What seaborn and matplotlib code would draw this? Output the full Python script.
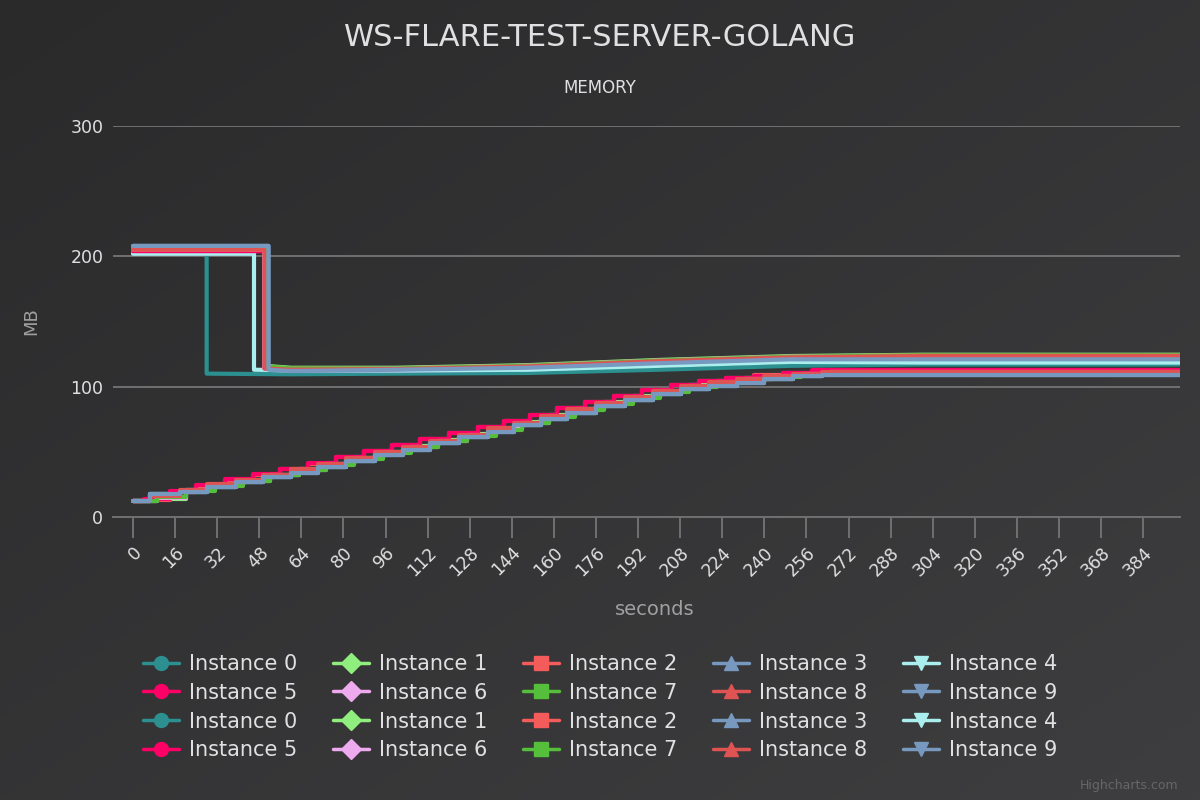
import numpy as np
import pandas as pd
import seaborn as sns
import matplotlib.pyplot as plt
from matplotlib.lines import Line2D
from matplotlib.colors import LinearSegmentedColormap

# series setup
instances = ['Instance %d' % i for i in range(10)]
colors = ["#2b908f", "#90ee7e", "#f45b5b", "#7798BF", "#aaeeee",
          "#ff0066", "#eeaaee", "#55BF3B", "#DF5353", "#7798BF"]
markers = ['o', 'D', 's', '^', 'v', 'o', 'D', 's', '^', 'v']

x_ticks = list(range(0, 385, 16))
y_ticks = [0, 100, 200, 300]

# run 1: instances start high and drop once warmed up
drop_at = [28, 50, 50.5, 51.5, 46, 50, 50, 51, 50, 51.5]
run1_mem = [
    [207, 207, 110, 109.5, 110, 110.5, 113, 116, 117, 117],
    [205, 205, 116, 114.5, 114.5, 116.5, 120.5, 123.5, 124.5, 124.5],
    [204, 204, 115, 114, 114, 116, 120, 123, 124, 124],
    [208, 208, 113, 112, 112, 113, 116.5, 119.5, 119, 119],
    [202, 202, 113, 112.5, 112.5, 113, 116, 119, 118.5, 118.5],
    [204, 204, 114, 113, 113.5, 115.5, 119.5, 122.5, 123, 123],
    [205, 205, 114.5, 113.5, 114, 116, 120, 123, 123.5, 123.5],
    [206, 206, 115.5, 114, 114, 116, 120, 123, 124, 124],
    [205, 205, 114, 113, 113.5, 115.5, 119.5, 122.5, 123.5, 123.5],
    [208, 208, 113, 112, 113, 114.5, 118, 121, 121, 121],
]

# run 2: instances ramp up in steps
steps_a = [0, 6.5, 18, 28, 39, 49.5, 60, 70.5, 81, 92, 102.5, 113, 124, 135, 145,
           155, 165, 176, 187, 197.5, 208.5, 219, 229.5, 240, 251, 262, 398]
steps_b = [0, 4, 14, 24, 35, 45.5, 56, 66.5, 77, 88, 98.5, 109, 120, 131, 141,
           151, 161, 172, 183, 193.5, 204.5, 215, 225.5, 236, 247, 258, 398]
steps_c = [0, 9, 20, 31, 42, 52, 63, 73.5, 84, 95, 105.5, 116, 127, 138, 148,
           158, 168, 179, 190, 200.5, 211.5, 222, 232.5, 243, 254, 265, 398]
run2_steps = [steps_a, steps_c, steps_b, steps_a, steps_a,
              steps_b, steps_c, steps_c, steps_a, steps_a]
run2_mem = [
    [12, 17.5, 19.5, 23, 27, 31, 34.5, 38.5, 43, 48, 52, 56.5, 61, 66, 70.5, 75.5, 80, 85, 90, 94, 98, 101, 103.5, 106, 108, 109.5, 109.5],
    [12, 14, 20.5, 24.5, 28.5, 32.5, 36.5, 41, 45.5, 50, 54.5, 59, 63.5, 68, 73, 78, 83, 88, 92.5, 97, 101, 104, 106.5, 108.5, 110, 111, 111],
    [12, 13, 19.5, 24, 28.5, 32.5, 36.5, 41, 46, 50.5, 55, 59.5, 64.5, 69, 73.5, 78.5, 83.5, 88.5, 93, 97.5, 101.5, 104.5, 107, 109, 110.5, 112, 112],
    [12, 17.5, 19.5, 23, 27, 31, 34.5, 38.5, 43, 48, 52, 56.5, 61, 66, 70.5, 75.5, 80, 85, 90, 94, 98, 101, 103.5, 106, 108, 109.5, 109.5],
    [12, 18, 19.5, 23, 26.5, 30.5, 34, 38, 43, 47.5, 51.5, 56.5, 61, 65.5, 70.5, 75, 80, 85, 89.5, 94, 98, 100.5, 103, 105.5, 108, 109, 109],
    [12, 14, 20, 24.5, 29, 33, 37, 41.5, 46, 50.5, 55, 59.5, 64.5, 69, 73.5, 78.5, 83.5, 88.5, 93, 97.5, 101, 104, 106.5, 108.5, 110.5, 112.5, 112.5],
    [12, 14.5, 21, 24.5, 28, 32, 36, 40.5, 45, 49.5, 54, 58.5, 63, 67.5, 72.5, 77.5, 82.5, 87.5, 92, 96.5, 100.5, 103.5, 106, 108, 110, 111, 111],
    [12, 15, 20, 24, 28, 32, 36, 40, 44.5, 49, 53.5, 58, 62.5, 67, 72, 77, 82, 87, 91.5, 96, 100, 103, 105.5, 107.5, 109.5, 111, 111],
    [12, 16, 21, 25, 28.5, 32.5, 36.5, 40.5, 45, 49.5, 54, 58.5, 63, 68, 72.5, 77.5, 82.5, 87.5, 92, 96.5, 100.5, 103.5, 106, 108, 110, 111.5, 111.5],
    [12, 18, 19.5, 23, 26.5, 30.5, 34, 38, 43, 47.5, 51.5, 56.5, 61, 65.5, 70.5, 75, 80, 85, 89.5, 94, 98, 100.5, 103, 105.5, 108, 109, 109],
]

sns.set_theme(style='dark')
plt.rcParams['font.family'] = ['DejaVu Sans']
txt = '#E0E0E3'
grid_c = '#707073'

fig = plt.figure(figsize=(12, 8), dpi=100)

# gradient background
bg = fig.add_axes([0, 0, 1, 1], zorder=-10)
gx, gy = np.meshgrid(np.linspace(0, 1, 300), np.linspace(0, 1, 200))
cmap = LinearSegmentedColormap.from_list('bg', ['#2a2a2b', '#3e3e40'])
bg.imshow((gx + gy) / 2, cmap=cmap, aspect='auto', extent=(0, 1, 0, 1), origin='upper')
bg.axis('off')

ax = fig.add_axes([113/1200, 1-517/800, 1067/1200, 391/800])
ax.set_facecolor('none')

for i in range(10):
    d = drop_at[i]
    t = [0, d, d, 60, 100, 150, 200, 250, 300, 398]
    sns.lineplot(x=t, y=run1_mem[i], ax=ax, color=colors[i], lw=3,
                 estimator=None, sort=False, legend=False, solid_joinstyle='round')
for i in range(10):
    sns.lineplot(x=run2_steps[i], y=run2_mem[i], ax=ax, color=colors[i], lw=3,
                 estimator=None, sort=False, legend=False, drawstyle='steps-post')

ax.set_xlim(-7.6, 398)
ax.set_ylim(0, 300)
ax.set_xticks(x_ticks)
ax.set_xticklabels([str(v) for v in x_ticks], rotation=45, ha='right',
                   rotation_mode='anchor', color=txt, fontsize=12.5)
ax.set_yticks(y_ticks)
ax.set_yticklabels([str(v) for v in y_ticks], color=txt, fontsize=12.5)
ax.tick_params(axis='x', length=15, width=1.4, color=grid_c, pad=4, bottom=True)
ax.tick_params(axis='y', length=0, pad=7)
ax.grid(axis='y', color=grid_c, lw=1.4)
ax.grid(axis='x', visible=False)
for s in ['top', 'right', 'left']:
    ax.spines[s].set_visible(False)
ax.spines['bottom'].set_color(grid_c)
ax.spines['bottom'].set_linewidth(1.4)

ax.set_xlabel('seconds', color='#A0A0A3', fontsize=14)
ax.xaxis.set_label_coords(0.508, -0.212)
ax.set_ylabel('MB', color='#A0A0A3', fontsize=13)
ax.yaxis.set_label_coords(-0.068, 0.5)

fig.text(0.5, 1-37/800, 'WS-FLARE-TEST-SERVER-GOLANG', ha='center', va='center',
         color=txt, fontsize=22)
fig.text(0.5, 1-88/800, 'MEMORY', ha='center', va='center', color=txt, fontsize=12)
fig.text(1178/1200, 1-785/800, 'Highcharts.com', ha='right', va='center',
         color='#666666', fontsize=9)

# legend, row-major like the original
handles = []
for c in range(5):
    for i in [c, c + 5, c, c + 5]:
        handles.append(Line2D([0], [0], color=colors[i], lw=2.5, marker=markers[i],
                              markersize=10, label=instances[i]))
leg = fig.legend(handles=handles, ncol=5, loc='upper left',
                 bbox_to_anchor=(143/1200, 1-654/800), frameon=False,
                 fontsize=15, handlelength=1.75, handletextpad=0.45,
                 columnspacing=1.72, labelspacing=0.42, borderpad=0, borderaxespad=0)
for t in leg.get_texts():
    t.set_color(txt)

fig.savefig('out.png', dpi=100)
